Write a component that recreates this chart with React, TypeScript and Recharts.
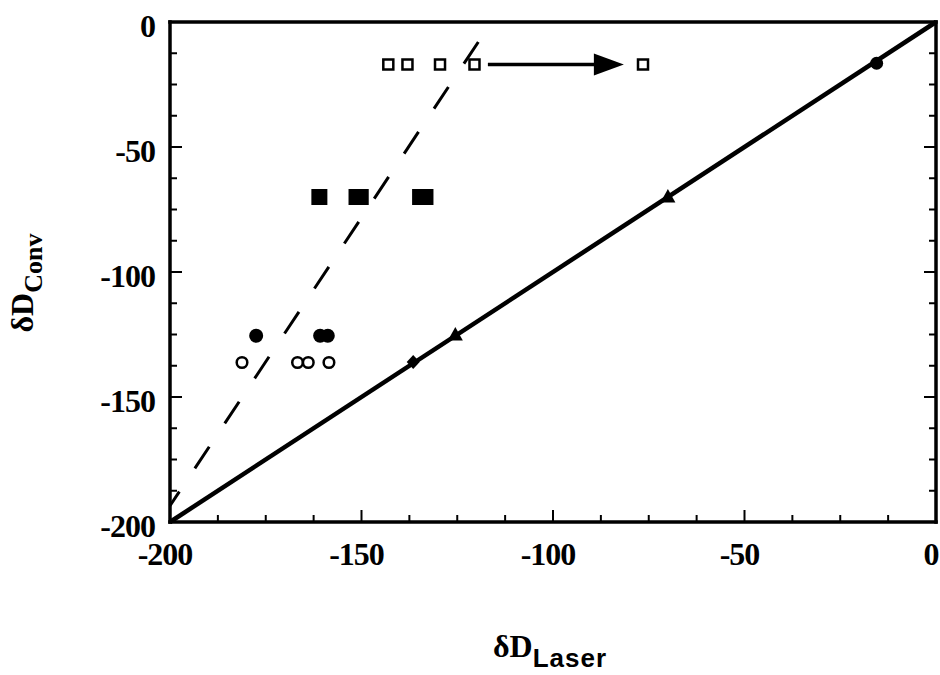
import React from 'react';
import { ScatterChart, Scatter, XAxis, YAxis, ReferenceLine } from 'recharts';

// tick positions (every 12.5, labelled every 50)
const axisTicks = [-200, -187.5, -175, -162.5, -150, -137.5, -125, -112.5, -100, -87.5, -75, -62.5, -50, -37.5, -25, -12.5, 0];
const labelledTicks = [-200, -150, -100, -50, 0];

// conventional vs laser dD
const openSquares = [
  { x: -143, y: -17 },
  { x: -138, y: -17 },
  { x: -129.5, y: -17 },
  { x: -120.5, y: -17 },
  { x: -76.5, y: -17 },
];
const filledSquares = [
  { x: -161, y: -70 },
  { x: -151.3, y: -70 },
  { x: -150.2, y: -70 },
  { x: -134.7, y: -70 },
  { x: -133.3, y: -70 },
];
const filledCircles = [
  { x: -177.5, y: -125.5 },
  { x: -160.8, y: -125.5 },
  { x: -158.8, y: -125.5 },
];
const openCircles = [
  { x: -181.2, y: -136.2 },
  { x: -166.7, y: -136.2 },
  { x: -163.9, y: -136.2 },
  { x: -158.5, y: -136.2 },
];
const lineCircle = [{ x: -15.5, y: -16.5 }];
const lineTriangles = [
  { x: -70, y: -70 },
  { x: -125.5, y: -125.2 },
];
const lineDiamond = [{ x: -136.5, y: -136 }];

const oneToOne = [{ x: -200, y: -200 }, { x: 0, y: 0 }];
const dashedFit = [{ x: -119.5, y: -8 }, { x: -200, y: -193.5 }];
const shiftArrow = [{ x: -117, y: -17 }, { x: -81.5, y: -17 }];

const SERIF = '"Liberation Serif", "Times New Roman", serif';
const SANS = '"Liberation Sans", Arial, sans-serif';

type Side = 'left' | 'bottom' | 'top' | 'right';

const makeTick = (side: Side) => (props: any) => {
  const { x, y, payload } = props;
  const major = labelledTicks.includes(payload.value);
  const len = major ? 12 : 7;
  let x2 = x;
  let y2 = y;
  if (side === 'left') x2 = x + len;
  if (side === 'right') x2 = x - len;
  if (side === 'bottom') y2 = y - len;
  if (side === 'top') y2 = y + len;
  const labelStyle = { fontFamily: SERIF, fontWeight: 700, fontSize: 32, letterSpacing: -1 };
  return (
    <g>
      <line x1={x} y1={y} x2={x2} y2={y2} stroke="#000" strokeWidth={2} />
      {major && side === 'left' && (
        <text x={x - 15} y={y + 15} textAnchor="end" fill="#000" style={labelStyle}>
          {payload.value}
        </text>
      )}
      {major && side === 'bottom' && (
        <text x={x - 5} y={y + 43} textAnchor="middle" fill="#000" style={labelStyle}>
          {payload.value}
        </text>
      )}
    </g>
  );
};

const XTitle = (props: any) => {
  const vb = props.viewBox || { x: 170, y: 522, width: 766 };
  const cx = vb.x + vb.width / 2 - 3;
  const base = vb.y + 135;
  return (
    <text x={cx} y={base} textAnchor="middle" fill="#000">
      <tspan style={{ fontFamily: SERIF, fontWeight: 700, fontSize: 32 }}>δD</tspan>
      <tspan dy={10} style={{ fontFamily: SANS, fontWeight: 700, fontSize: 26, letterSpacing: 1 }}>Laser</tspan>
    </text>
  );
};

const YTitle = (props: any) => {
  const vb = props.viewBox || { x: 0, y: 22, height: 500 };
  const bx = 33;
  const cy = vb.y + vb.height / 2 + 11;
  return (
    <text x={bx} y={cy} textAnchor="middle" fill="#000" transform={`rotate(-90 ${bx} ${cy})`}>
      <tspan style={{ fontFamily: SERIF, fontWeight: 700, fontSize: 32 }}>δD</tspan>
      <tspan dy={9} style={{ fontFamily: SERIF, fontWeight: 700, fontSize: 26 }}>Conv</tspan>
    </text>
  );
};

const OpenSquare = (p: any) => (
  <rect x={p.cx - 5} y={p.cy - 5} width={10} height={10} fill="#fff" stroke="#000" strokeWidth={2.5} />
);
const FilledSquare = (p: any) => <rect x={p.cx - 8} y={p.cy - 8} width={16} height={16} fill="#000" />;
const FilledCircle = (p: any) => <circle cx={p.cx} cy={p.cy} r={7} fill="#000" />;
const OpenCircle = (p: any) => (
  <circle cx={p.cx} cy={p.cy} r={5.3} fill="#fff" stroke="#000" strokeWidth={2.5} />
);
const SmallCircle = (p: any) => <circle cx={p.cx} cy={p.cy} r={6.5} fill="#000" />;
const Triangle = (p: any) => (
  <polygon
    points={`${p.cx},${p.cy - 8} ${p.cx - 7.5},${p.cy + 5.5} ${p.cx + 7.5},${p.cy + 5.5}`}
    fill="#000"
  />
);
const Diamond = (p: any) => (
  <polygon
    points={`${p.cx},${p.cy - 7} ${p.cx + 6.5},${p.cy} ${p.cx},${p.cy + 7} ${p.cx - 6.5},${p.cy}`}
    fill="#000"
  />
);

// shaft plus filled head, tip at the second point
const ArrowShape = (p: any) => {
  const { x1, y1, x2, y2 } = p;
  const headLen = 30;
  const half = 11;
  return (
    <g>
      <line x1={x1} y1={y1} x2={x2 - headLen + 2} y2={y2} stroke="#000" strokeWidth={3.5} />
      <polygon points={`${x2},${y2} ${x2 - headLen},${y2 - half} ${x2 - headLen},${y2 + half}`} fill="#000" />
    </g>
  );
};

const frame = { stroke: '#000', strokeWidth: 3.5, strokeLinecap: 'square' as const };

export default function App() {
  return (
    <div style={{ position: 'absolute', left: 0, top: 0, width: 940, height: 675, background: '#fff' }}>
      <ScatterChart width={940} height={675} margin={{ top: 0, right: 0, bottom: 0, left: 0 }}>
        <XAxis
          xAxisId="b"
          orientation="bottom"
          type="number"
          dataKey="x"
          domain={[-200, 0]}
          allowDataOverflow
          ticks={axisTicks}
          interval={0}
          tickSize={0}
          tickMargin={0}
          tickLine={false}
          axisLine={frame}
          tick={makeTick('bottom')}
          height={153}
          label={{ content: XTitle }}
        />
        <XAxis
          xAxisId="t"
          orientation="top"
          type="number"
          domain={[-200, 0]}
          allowDataOverflow
          ticks={axisTicks}
          interval={0}
          tickSize={0}
          tickMargin={0}
          tickLine={false}
          axisLine={frame}
          tick={makeTick('top')}
          height={22}
        />
        <YAxis
          yAxisId="l"
          orientation="left"
          type="number"
          dataKey="y"
          domain={[-200, 0]}
          allowDataOverflow
          ticks={axisTicks}
          interval={0}
          tickSize={0}
          tickMargin={0}
          tickLine={false}
          axisLine={frame}
          tick={makeTick('left')}
          width={170}
          label={{ content: YTitle }}
        />
        <YAxis
          yAxisId="r"
          orientation="right"
          type="number"
          domain={[-200, 0]}
          allowDataOverflow
          ticks={axisTicks}
          interval={0}
          tickSize={0}
          tickMargin={0}
          tickLine={false}
          axisLine={frame}
          tick={makeTick('right')}
          width={4}
        />

        <ReferenceLine xAxisId="b" yAxisId="l" segment={oneToOne} stroke="#000" strokeWidth={4.5} ifOverflow="visible" />
        <ReferenceLine
          xAxisId="b"
          yAxisId="l"
          segment={dashedFit}
          stroke="#000"
          strokeWidth={3}
          strokeDasharray="26 28"
          ifOverflow="visible"
        />
        <ReferenceLine xAxisId="b" yAxisId="l" segment={shiftArrow} shape={ArrowShape} ifOverflow="visible" />

        <Scatter xAxisId="b" yAxisId="l" data={openSquares} shape={OpenSquare} isAnimationActive={false} />
        <Scatter xAxisId="b" yAxisId="l" data={filledSquares} shape={FilledSquare} isAnimationActive={false} />
        <Scatter xAxisId="b" yAxisId="l" data={filledCircles} shape={FilledCircle} isAnimationActive={false} />
        <Scatter xAxisId="b" yAxisId="l" data={openCircles} shape={OpenCircle} isAnimationActive={false} />
        <Scatter xAxisId="b" yAxisId="l" data={lineCircle} shape={SmallCircle} isAnimationActive={false} />
        <Scatter xAxisId="b" yAxisId="l" data={lineTriangles} shape={Triangle} isAnimationActive={false} />
        <Scatter xAxisId="b" yAxisId="l" data={lineDiamond} shape={Diamond} isAnimationActive={false} />
      </ScatterChart>
    </div>
  );
}
